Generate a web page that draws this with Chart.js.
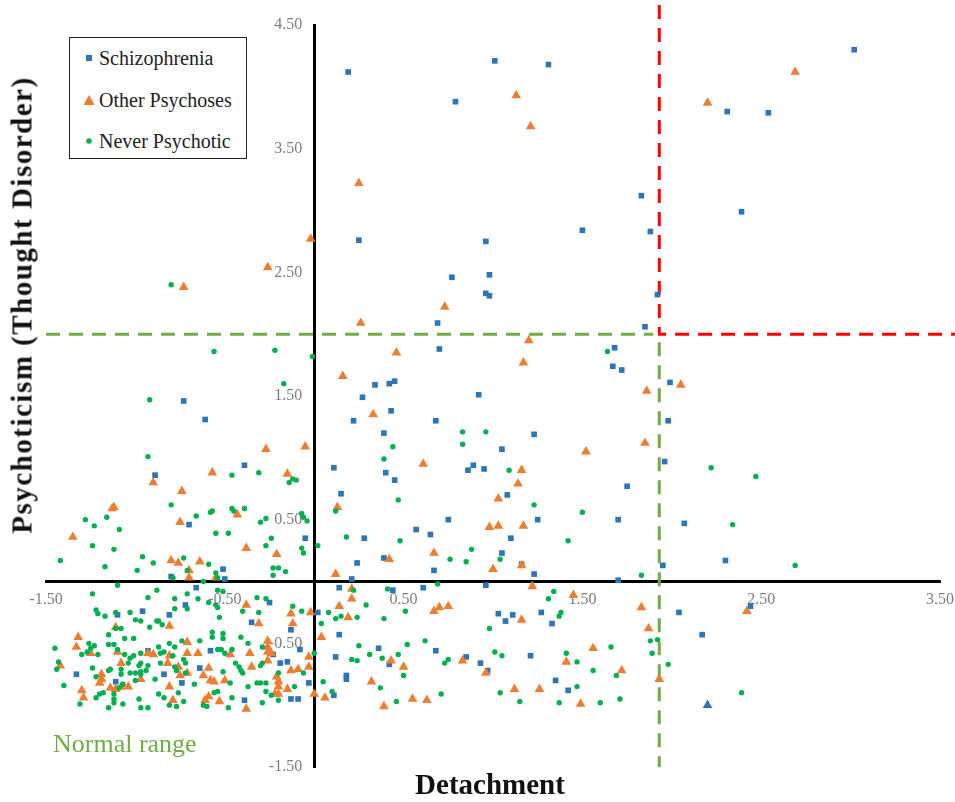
<!DOCTYPE html>
<html>
<head>
<meta charset="utf-8">
<title>Detachment vs Psychoticism</title>
<script src="https://cdn.jsdelivr.net/npm/chart.js@4.4.1/dist/chart.umd.min.js"></script>
<style>
  body { margin: 0; background: #fff; }
  #wrap { position: relative; width: 955px; height: 802px; font-family: "Liberation Serif", serif; }
  #legend {
    position: absolute; left: 69px; top: 37px; width: 176px; height: 120px;
    border: 1.5px solid #222; background: #fff;
  }
  .legend-item { position: absolute; left: 0; height: 24px; line-height: 24px; font-size: 20px; color: #222; white-space: nowrap; }
  .legend-item .mark { position: absolute; left: 19px; top: 12px; transform: translate(-50%, -50%); line-height: 0; }
  .legend-item span.text { position: absolute; left: 29px; top: 0; }
  .axis-title { position: absolute; font-weight: bold; font-size: 29px; color: #111; white-space: nowrap; line-height: 1; transform: translate(-50%, -50%); }
  #y-title { left: 22px; top: 305px; letter-spacing: 1.5px; transform: translate(-50%, -50%) rotate(-90deg); }
  #x-title { left: 490px; top: 784px; }
  #normal-range { position: absolute; left: 53px; top: 731px; font-size: 26px; color: #70AD47; white-space: nowrap; line-height: 1; }
</style>
</head>
<body>
<div id="wrap">
  <canvas id="scatterChart"></canvas>
  <div id="legend"></div>
  <div class="axis-title" id="y-title">Psychoticism (Thought Disorder)</div>
  <div class="axis-title" id="x-title">Detachment</div>
  <div id="normal-range">Normal range</div>
</div>
<script>
// axis ranges (ticks are built by Chart.js from these)
const xMin = -1.5, xMax = 3.5;
const yMin = -1.5, yMax = 4.5;
const tickStep = 1;

// cut-offs for the "normal range" and the clinical quadrant
const detachmentCutoff = 1.93;
const psychoticismCutoff = 2.0;

// [detachment, psychoticism]
const schizophrenia = [
  [0.19,4.12],[1.01,4.21],[1.31,4.18],[0.79,3.88],[0.25,2.76],[0.96,2.75],[1.50,2.84],[0.77,2.46],[0.98,2.48],[0.96,2.33],[0.98,2.31],
  [3.02,4.30],[2.31,3.80],[2.54,3.79],[1.83,3.12],[2.39,2.99],[1.88,2.83],[1.92,2.32],[1.85,2.06],
  [-0.73,1.46],[-0.61,1.31],[-0.39,0.94],[-0.89,0.86],
  [0.69,2.09],[0.70,1.88],[0.34,1.59],[0.42,1.60],[0.45,1.62],[0.27,1.49],[0.92,1.51],[0.43,1.38],[0.22,1.30],[0.68,1.30],
  [0.39,1.20],[1.23,1.19],[1.05,1.07],[0.11,0.92],[0.40,0.88],[0.86,0.90],[0.89,0.94],[0.95,0.91],[0.45,0.82],[0.15,0.71],
  [1.08,0.70],[0.75,0.50],[1.25,0.50],[0.57,0.42],[0.65,0.38],[-0.05,0.35],[0.28,0.35],[1.10,0.35],[1.05,0.23],[0.39,0.19],
  [0.24,0.15],[1.16,0.14],[0.67,0.09],[1.23,0.06],[0.21,0.02],
  [1.68,1.89],[1.67,1.74],[1.72,1.71],[1.99,1.61],[1.98,1.30],[1.96,0.97],[1.75,0.77],[1.70,0.50],[2.07,0.47],[1.95,0.13],
  [2.30,0.17],[1.70,0.01],
  [1.03,-0.26],[1.11,-0.27],[1.07,-0.32],[1.27,-0.25],[1.33,-0.34],[2.04,-0.25],[1.21,-0.60],[1.35,-0.80],[1.42,-0.88],
  [2.44,-0.20],[2.17,-0.43],
  [0.14,-0.05],[0.44,-0.07],[0.61,-0.05],[0.96,-0.03],[0.14,-0.43],[0.36,-0.54],[0.68,-0.56],[0.12,-0.61],[0.42,-0.67],
  [0.85,-0.61],[0.93,-0.66],[0.97,-0.72],[0.18,-0.76],[0.18,-0.79],[0.11,-0.92],
  [-0.70,0.46],[-0.80,0.04],[-0.72,-0.19],[-1.10,-0.27],[-0.96,-0.24],[-0.81,-0.27],[-0.93,-0.56],[-1.33,-0.75],[-1.11,-0.81],
  [-0.74,-0.82],[-0.84,-0.75],
  [-0.51,0.10],[-0.50,0.02],[-0.66,-0.05],[-0.25,-0.17],[0.02,-0.25],[-0.35,-0.33],[-0.13,-0.39],[-0.23,-0.59],[-0.58,-0.56],
  [-0.08,-0.55],[-0.19,-0.66],[-0.15,-0.65],[-0.64,-0.70],[-0.03,-0.82],[-0.13,-0.95],[-0.09,-0.95],[-0.39,-0.96]
];

// one schizophrenia case is plotted with a triangle marker in the original
const schizophreniaTriangle = [[2.20,-1.00]];

const otherPsychoses = [
  [1.13,3.93],[1.21,3.68],[0.25,3.22],[-0.02,2.77],[0.73,2.22],[2.69,4.12],[2.20,3.87],[-0.26,2.54],[-0.73,2.38],
  [-0.27,1.07],[-0.05,1.09],[-0.57,0.88],[-0.15,0.87],[-0.90,0.80],[-0.74,0.73],
  [0.26,2.09],[1.20,1.95],[0.46,1.85],[1.17,1.77],[0.16,1.66],[0.33,1.35],[0.61,0.95],[1.16,0.90],[1.14,0.79],[1.03,0.67],
  [0.13,0.60],[0.98,0.44],[1.03,0.45],[1.17,0.45],[0.67,0.23],[0.42,0.18],[1.00,0.10],[1.16,0.13],[0.12,0.06],
  [2.05,1.59],[1.86,1.54],[1.85,1.12],[1.52,1.05],
  [1.22,-0.04],[1.45,-0.11],[1.16,-0.31],[1.83,-0.21],[1.87,-0.38],[1.56,-0.54],[1.41,-0.65],[1.72,-0.72],[1.93,-0.79],
  [1.12,-0.87],[1.26,-0.87],[1.49,-0.99],[2.42,-0.24],
  [0.21,-0.06],[0.21,-0.14],[0.14,-0.20],[0.75,-0.20],[0.70,-0.21],[0.67,-0.24],[0.19,-0.29],[0.04,-0.45],[0.43,-0.64],
  [0.50,-0.69],[0.83,-0.64],[0.96,-0.74],[0.32,-0.81],[0.06,-0.94],[0.55,-0.95],[0.63,-0.96],[0.39,-1.01],
  [-1.13,0.59],[-1.12,0.60],[-0.75,0.48],[-1.35,0.36],[-0.80,0.17],[-0.76,0.15],[-0.70,0.09],[-0.70,0.03],[-0.81,-0.36],
  [-1.11,-0.37],[-1.32,-0.45],[-1.33,-0.53],[-1.25,-0.58],[-1.10,-0.57],[-1.08,-0.66],[-0.93,-0.58],[-0.90,-0.59],[-0.71,-0.49],
  [-0.71,-0.58],[-0.82,-0.66],[-1.42,-0.68],[-1.19,-0.75],[-1.19,-0.79],[-1.20,-0.82],[-1.30,-0.88],[-1.29,-0.94],[-1.14,-0.86],
  [-1.11,-0.87],[-1.08,-0.85],[-1.04,-0.85],[-0.97,-0.79],[-0.81,-0.85],[-0.79,-0.96],[-0.75,-0.76],[-0.76,-0.69],[-0.81,-0.60],
  [-0.71,-0.74],
  [-0.43,0.54],[-0.38,0.27],[-0.21,0.22],[-0.64,0.16],[-0.55,0.03],[-0.38,-0.19],[-0.13,-0.26],[-0.02,-0.25],[-0.31,-0.34],
  [-0.12,-0.34],[-0.26,-0.48],[-0.26,-0.53],[-0.26,-0.57],[-0.24,-0.58],[-0.65,-0.58],[-0.47,-0.59],[-0.36,-0.58],[-0.03,-0.61],
  [-0.26,-0.64],[-0.35,-0.69],[-0.13,-0.72],[-0.09,-0.71],[-0.59,-0.70],[-0.62,-0.76],[-0.58,-0.80],[-0.56,-0.81],[-0.50,-0.80],
  [-0.21,-0.77],[-0.20,-0.81],[-0.20,-0.85],[-0.15,-0.87],[-0.22,-0.91],[-0.20,-0.91],[-0.03,-0.69],[0.00,-0.91],[-0.38,-1.03],
  [-0.53,-0.97],[-0.61,-0.96],[-0.59,-0.93]
];

const neverPsychotic = [
  [-0.80,2.40],[-0.56,1.86],[-0.22,1.87],[-0.01,1.82],[-0.17,1.60],[-0.92,1.47],[-0.93,1.01],[-0.46,0.86],[-0.31,0.88],
  [-0.12,0.83],[-0.10,0.82],[-0.14,0.80],
  [0.83,1.21],[0.96,1.21],[0.83,1.11],[0.44,1.09],[0.39,0.99],[1.09,0.90],[0.47,0.66],[0.12,0.57],[1.23,0.62],[-0.07,0.55],
  [-0.06,0.52],[-0.04,0.49],[0.18,0.36],[0.48,0.33],[0.02,0.29],[-0.07,0.27],[-0.06,0.23],[0.88,0.26],[0.76,0.18],[0.85,0.16],
  [1.04,0.18],
  [1.64,1.86],[2.22,0.92],[2.47,0.85],[1.50,0.56],[2.34,0.46],[1.42,0.33],[2.69,0.13],[1.83,0.05],
  [1.34,-0.08],[1.31,-0.14],[1.38,-0.25],[1.37,-0.28],[0.98,-0.38],[1.88,-0.48],[1.92,-0.47],[1.89,-0.58],[1.98,-0.67],
  [1.01,-0.57],[1.05,-0.60],[1.66,-0.53],[1.41,-0.58],[1.47,-0.65],[1.56,-0.72],[1.69,-0.76],[1.47,-0.85],[1.04,-0.90],
  [1.15,-0.97],[1.37,-0.98],[1.60,-0.98],[1.71,-0.95],[2.39,-0.90],
  [0.22,-0.07],[0.41,-0.06],[0.69,-0.02],[0.29,-0.19],[0.08,-0.25],[0.12,-0.30],[0.15,-0.28],[0.24,-0.29],[0.39,-0.30],
  [0.51,-0.24],[0.04,-0.34],[0.25,-0.52],[0.52,-0.51],[0.62,-0.48],[0.21,-0.63],[0.24,-0.64],[0.31,-0.59],[0.38,-0.62],
  [0.47,-0.59],[0.50,-0.76],[0.75,-0.63],[0.73,-0.66],[0.37,-0.86],[0.05,-0.81],[0.10,-0.89],[0.46,-0.97],[0.71,-0.91],
  [-0.80,0.62],[-1.28,0.50],[-1.23,0.45],[-1.16,0.52],[-1.09,0.42],[-1.24,0.29],[-1.12,0.26],[-0.96,0.20],[-0.90,0.15],
  [-1.42,0.17],[-1.17,0.12],[-0.73,0.19],[-0.99,0.09],[-0.79,0.03],[-0.71,0.09],[-1.10,-0.03],[-1.24,-0.10],[-0.88,-0.07],
  [-0.93,-0.13],[-0.78,-0.14],[-0.71,-0.22],[-0.78,-0.22],[-1.22,-0.23],[-1.21,-0.26],[-1.17,-0.28],[-1.11,-0.25],[-1.03,-0.25],
  [-1.00,-0.31],[-0.97,-0.32],[-0.92,-0.37],[-0.88,-0.32],[-0.87,-0.32],[-0.85,-0.35],[-1.11,-0.38],[-1.08,-0.38],[-1.15,-0.43],
  [-1.06,-0.46],[-1.01,-0.46],[-1.12,-0.51],[-1.15,-0.51],[-1.23,-0.52],[-1.45,-0.54],[-1.26,-0.50],[-1.25,-0.54],[-1.30,-0.59],
  [-1.21,-0.59],[-1.27,-0.57],[-1.10,-0.55],[-1.06,-0.59],[-1.04,-0.66],[-1.01,-0.60],[-0.97,-0.58],[-0.87,-0.53],[-0.86,-0.58],
  [-0.84,-0.57],[-0.81,-0.50],[-0.74,-0.48],[-0.78,-0.53],[-0.79,-0.60],[-0.73,-0.63],[-0.86,-0.66],[-0.97,-0.66],[-0.98,-0.68],
  [-0.93,-0.68],[-0.94,-0.72],[-1.00,-0.74],[-0.97,-0.73],[-0.97,-0.75],[-1.03,-0.74],[-1.14,-0.71],[-1.15,-0.72],[-1.08,-0.71],
  [-1.08,-0.75],[-1.43,-0.65],[-1.44,-0.71],[-1.24,-0.70],[-1.22,-0.77],[-1.40,-0.84],[-1.31,-0.99],[-1.07,-0.83],[-1.09,-0.86],
  [-1.00,-0.80],[-0.89,-0.79],[-1.20,-0.91],[-1.22,-0.94],[-1.18,-0.90],[-1.12,-0.91],[-1.12,-0.95],[-1.12,-0.98],[-1.15,-1.02],
  [-1.07,-0.99],[-0.98,-0.95],[-0.97,-1.02],[-0.93,-1.02],[-0.87,-0.91],[-0.84,-0.94],[-0.81,-1.00],[-0.77,-1.01],[-0.76,-0.90],
  [-0.73,-0.97],[-0.72,-0.74],[-0.78,-0.69],[-0.77,-0.72],[-0.72,-0.66],[-1.03,-0.62],
  [-0.46,0.59],[-0.45,0.57],[-0.39,0.59],[-0.58,0.56],[-0.57,0.57],[-0.66,0.53],[-0.55,0.39],[-0.48,0.39],[-0.30,0.48],
  [-0.27,0.51],[-0.27,0.29],[-0.24,0.35],[-0.59,0.14],[-0.55,0.07],[-0.54,0.03],[-0.62,0.00],[-0.23,0.11],[-0.20,0.11],
  [-0.16,0.08],[-0.23,0.05],[-0.71,-0.10],[-0.54,-0.07],[-0.51,-0.08],[-0.65,-0.14],[-0.59,-0.17],[-0.55,-0.19],[-0.54,-0.21],
  [-0.32,-0.13],[-0.27,-0.14],[-0.40,-0.24],[-0.31,-0.25],[-0.53,-0.29],[-0.12,-0.20],[-0.07,-0.24],[-0.57,-0.41],[-0.57,-0.45],
  [-0.51,-0.42],[-0.51,-0.46],[-0.41,-0.45],[-0.64,-0.48],[-0.37,-0.50],[-0.29,-0.53],[-0.54,-0.55],[-0.52,-0.55],[-0.50,-0.58],
  [-0.46,-0.55],[0.00,-0.58],[-0.20,-0.74],[-0.30,-0.68],[-0.29,-0.66],[-0.44,-0.66],[-0.42,-0.69],[-0.41,-0.72],[-0.40,-0.74],
  [-0.51,-0.73],[-0.67,-0.83],[-0.47,-0.82],[-0.37,-0.85],[-0.32,-0.82],[-0.30,-0.82],[-0.27,-0.82],[-0.11,-0.85],[-0.06,-0.74],
  [-0.20,-0.96],[-0.56,-0.90],[-0.54,-0.89],[-0.46,-0.94],[-0.62,-1.00],[-0.60,-1.01],[-0.48,-1.02],[-0.27,-0.89],[-0.24,-0.92],
  [-0.29,-0.98]
];

const seriesNames = ['Schizophrenia', 'Other Psychoses', 'Never Psychotic'];
const seriesColors = ['#2E75B6', '#ED7D31', '#00B050'];

function toPoints(pairs) {
  return pairs.map(p => ({ x: p[0], y: p[1] }));
}

// dashed cut-off lines, placed with the chart's own scales
const cutoffLines = {
  id: 'cutoffLines',
  beforeDatasetsDraw(chart) {
    const { ctx, scales: { x, y } } = chart;
    const cx = x.getPixelForValue(detachmentCutoff);
    const cy = y.getPixelForValue(psychoticismCutoff);
    ctx.save();
    ctx.lineWidth = 3;
    ctx.setLineDash([14, 9]);

    ctx.strokeStyle = '#70AD47';
    ctx.beginPath();
    ctx.moveTo(x.getPixelForValue(xMin), cy);
    ctx.lineTo(cx - 6, cy);
    ctx.stroke();
    ctx.beginPath();
    ctx.moveTo(cx, cy + 8);
    ctx.lineTo(cx, y.getPixelForValue(yMin));
    ctx.stroke();

    ctx.strokeStyle = '#FF0000';
    ctx.beginPath();
    ctx.moveTo(cx, 5);
    ctx.lineTo(cx, cy);
    ctx.lineTo(chart.width, cy);
    ctx.stroke();
    ctx.restore();
  }
};

const tickFont = { family: 'Liberation Serif', size: 16 };

// keep the layout padding as the only margin round the plot
function noEdgePadding(scale) {
  scale.paddingLeft = 0;
  scale.paddingRight = 0;
  scale.paddingTop = 0;
  scale.paddingBottom = 0;
}

const ctx = document.getElementById('scatterChart').getContext('2d');
new Chart(ctx, {
  type: 'scatter',
  data: {
    datasets: [
      {
        label: seriesNames[0],
        data: toPoints(schizophrenia),
        pointStyle: 'rect',
        pointRadius: 4,
        backgroundColor: seriesColors[0],
        borderWidth: 0,
        order: 3
      },
      {
        label: seriesNames[0],
        data: toPoints(schizophreniaTriangle),
        pointStyle: 'triangle',
        pointRadius: 5.6,
        backgroundColor: seriesColors[0],
        borderWidth: 0,
        order: 3
      },
      {
        label: seriesNames[1],
        data: toPoints(otherPsychoses),
        pointStyle: 'triangle',
        pointRadius: 5.6,
        backgroundColor: seriesColors[1],
        borderWidth: 0,
        order: 2
      },
      {
        label: seriesNames[2],
        data: toPoints(neverPsychotic),
        pointStyle: 'circle',
        pointRadius: 2.7,
        backgroundColor: seriesColors[2],
        borderWidth: 0,
        order: 1
      }
    ]
  },
  options: {
    responsive: true,
    maintainAspectRatio: false,
    animation: false,
    layout: { padding: { left: 46, top: 25, right: 15, bottom: 35 } },
    plugins: {
      legend: { display: false },
      tooltip: { enabled: false }
    },
    scales: {
      x: {
        type: 'linear',
        position: { y: 0 },
        min: xMin,
        max: xMax,
        afterFit: noEdgePadding,
        ticks: {
          stepSize: tickStep,
          autoSkip: false,
          maxRotation: 0,
          padding: 9,
          color: '#7F7F7F',
          font: tickFont,
          callback: v => v.toFixed(2)
        },
        grid: { display: false, drawTicks: false },
        border: { display: true, color: '#000', width: 3 }
      },
      y: {
        type: 'linear',
        position: { x: 0 },
        min: yMin,
        max: yMax,
        afterFit: noEdgePadding,
        ticks: {
          stepSize: tickStep,
          autoSkip: false,
          color: '#7F7F7F',
          font: tickFont,
          // labels sit right-aligned on the axis; trailing spaces give the gap
          callback: v => v.toFixed(2) + '\u2002\u2005'
        },
        grid: { display: false, drawTicks: false },
        border: { display: true, color: '#000', width: 3 }
      }
    }
  },
  plugins: [cutoffLines]
});

// legend in the upper-left box
const legendShapes = [
  `<svg width="8" height="8"><rect x="1" y="1" width="6" height="6" fill="${seriesColors[0]}"/></svg>`,
  `<svg width="12" height="11"><polygon points="6,0.5 11.5,10.5 0.5,10.5" fill="${seriesColors[1]}"/></svg>`,
  `<svg width="7" height="7"><circle cx="3.5" cy="3.5" r="2.8" fill="${seriesColors[2]}"/></svg>`
];
const legendRows = [8, 50, 91];
document.getElementById('legend').innerHTML = seriesNames.map((name, i) =>
  `<div class="legend-item" style="top:${legendRows[i]}px"><span class="mark">${legendShapes[i]}</span><span class="text">${name}</span></div>`
).join('');
</script>
</body>
</html>
